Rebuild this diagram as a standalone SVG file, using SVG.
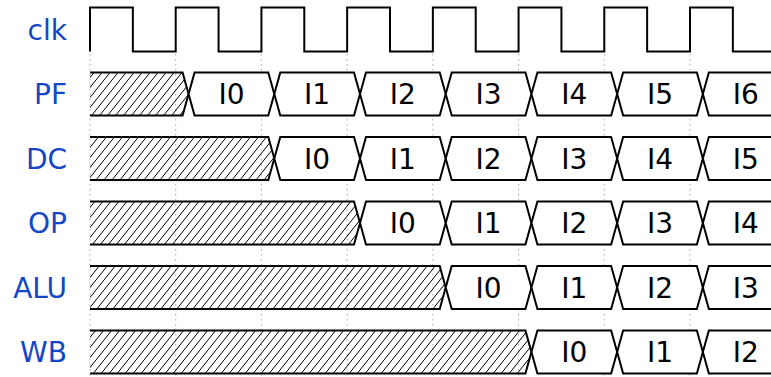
<svg xmlns="http://www.w3.org/2000/svg" width="771" height="377" viewBox="0 0 771 377">
<style>
.lbl{font-family:"DejaVu Sans",sans-serif;font-size:28px;fill:#1446c8;text-anchor:end}
.dt{font-family:"DejaVu Sans",sans-serif;font-size:28px;fill:#000;text-anchor:middle}
.bus{fill:#fff;stroke:#000;stroke-width:2;stroke-linejoin:miter}
.hat{fill:url(#hatch);stroke:#000;stroke-width:2}
.grid{stroke:#aaa;stroke-width:1;stroke-dasharray:1.5,3.5;fill:none}
.clk{fill:none;stroke:#000;stroke-width:2}
</style>
<defs>
<pattern id="hatch" patternUnits="userSpaceOnUse" width="8" height="10">
<path d="M-8.8,11 L0.8,-1 M-0.8,11 L8.8,-1 M7.2,11 L16.8,-1" stroke="#000" stroke-width="1" fill="none"/>
</pattern>
</defs>
<g id="grid">
<path class="grid" d="M90,54V377M175.71,54V377M261.43,54V377M347.14,54V377M432.86,54V377M518.57,54V377M604.29,54V377M690,54V377"/>
</g>
<g id="clk">
<text class="lbl" x="67" y="40">clk</text>
<path class="clk" d="M90,51.5V7.5H132.86V51.5H175.71V7.5H218.57V51.5H261.43V7.5H304.29V51.5H347.14V7.5H390V51.5H432.86V7.5H475.71V51.5H518.57V7.5H561.43V51.5H604.29V7.5H647.14V51.5H690V7.5H732.86V51.5H775"/>
</g>
<g id="PF">
<text class="lbl" x="67" y="104">PF</text>
<path class="hat" d="M90,72.5H182.57L188.57,94L182.57,115.5H90"/>
<polygon class="bus" points="188.57,94 194.57,72.5 268.29,72.5 274.29,94 268.29,115.5 194.57,115.5"/>
<polygon class="bus" points="274.29,94 280.29,72.5 354,72.5 360,94 354,115.5 280.29,115.5"/>
<polygon class="bus" points="360,94 366,72.5 439.71,72.5 445.71,94 439.71,115.5 366,115.5"/>
<polygon class="bus" points="445.71,94 451.71,72.5 525.43,72.5 531.43,94 525.43,115.5 451.71,115.5"/>
<polygon class="bus" points="531.43,94 537.43,72.5 611.14,72.5 617.14,94 611.14,115.5 537.43,115.5"/>
<polygon class="bus" points="617.14,94 623.14,72.5 696.86,72.5 702.86,94 696.86,115.5 623.14,115.5"/>
<polygon class="bus" points="702.86,94 708.86,72.5 782.57,72.5 788.57,94 782.57,115.5 708.86,115.5"/>
<text class="dt" x="231.43" y="104">I0</text>
<text class="dt" x="317.14" y="104">I1</text>
<text class="dt" x="402.86" y="104">I2</text>
<text class="dt" x="488.57" y="104">I3</text>
<text class="dt" x="574.29" y="104">I4</text>
<text class="dt" x="660" y="104">I5</text>
<text class="dt" x="745.71" y="104">I6</text>
</g>
<g id="DC">
<text class="lbl" x="67" y="168.5">DC</text>
<path class="hat" d="M90,137H268.29L274.29,158.5L268.29,180H90"/>
<polygon class="bus" points="274.29,158.5 280.29,137 354,137 360,158.5 354,180 280.29,180"/>
<polygon class="bus" points="360,158.5 366,137 439.71,137 445.71,158.5 439.71,180 366,180"/>
<polygon class="bus" points="445.71,158.5 451.71,137 525.43,137 531.43,158.5 525.43,180 451.71,180"/>
<polygon class="bus" points="531.43,158.5 537.43,137 611.14,137 617.14,158.5 611.14,180 537.43,180"/>
<polygon class="bus" points="617.14,158.5 623.14,137 696.86,137 702.86,158.5 696.86,180 623.14,180"/>
<polygon class="bus" points="702.86,158.5 708.86,137 782.57,137 788.57,158.5 782.57,180 708.86,180"/>
<text class="dt" x="317.14" y="168.5">I0</text>
<text class="dt" x="402.86" y="168.5">I1</text>
<text class="dt" x="488.57" y="168.5">I2</text>
<text class="dt" x="574.29" y="168.5">I3</text>
<text class="dt" x="660" y="168.5">I4</text>
<text class="dt" x="745.71" y="168.5">I5</text>
</g>
<g id="OP">
<text class="lbl" x="67" y="233">OP</text>
<path class="hat" d="M90,201.5H354L360,223L354,244.5H90"/>
<polygon class="bus" points="360,223 366,201.5 439.71,201.5 445.71,223 439.71,244.5 366,244.5"/>
<polygon class="bus" points="445.71,223 451.71,201.5 525.43,201.5 531.43,223 525.43,244.5 451.71,244.5"/>
<polygon class="bus" points="531.43,223 537.43,201.5 611.14,201.5 617.14,223 611.14,244.5 537.43,244.5"/>
<polygon class="bus" points="617.14,223 623.14,201.5 696.86,201.5 702.86,223 696.86,244.5 623.14,244.5"/>
<polygon class="bus" points="702.86,223 708.86,201.5 782.57,201.5 788.57,223 782.57,244.5 708.86,244.5"/>
<text class="dt" x="402.86" y="233">I0</text>
<text class="dt" x="488.57" y="233">I1</text>
<text class="dt" x="574.29" y="233">I2</text>
<text class="dt" x="660" y="233">I3</text>
<text class="dt" x="745.71" y="233">I4</text>
</g>
<g id="ALU">
<text class="lbl" x="67" y="297.5">ALU</text>
<path class="hat" d="M90,266H439.71L445.71,287.5L439.71,309H90"/>
<polygon class="bus" points="445.71,287.5 451.71,266 525.43,266 531.43,287.5 525.43,309 451.71,309"/>
<polygon class="bus" points="531.43,287.5 537.43,266 611.14,266 617.14,287.5 611.14,309 537.43,309"/>
<polygon class="bus" points="617.14,287.5 623.14,266 696.86,266 702.86,287.5 696.86,309 623.14,309"/>
<polygon class="bus" points="702.86,287.5 708.86,266 782.57,266 788.57,287.5 782.57,309 708.86,309"/>
<text class="dt" x="488.57" y="297.5">I0</text>
<text class="dt" x="574.29" y="297.5">I1</text>
<text class="dt" x="660" y="297.5">I2</text>
<text class="dt" x="745.71" y="297.5">I3</text>
</g>
<g id="WB">
<text class="lbl" x="67" y="362">WB</text>
<path class="hat" d="M90,330.5H525.43L531.43,352L525.43,373.5H90"/>
<polygon class="bus" points="531.43,352 537.43,330.5 611.14,330.5 617.14,352 611.14,373.5 537.43,373.5"/>
<polygon class="bus" points="617.14,352 623.14,330.5 696.86,330.5 702.86,352 696.86,373.5 623.14,373.5"/>
<polygon class="bus" points="702.86,352 708.86,330.5 782.57,330.5 788.57,352 782.57,373.5 708.86,373.5"/>
<text class="dt" x="574.29" y="362">I0</text>
<text class="dt" x="660" y="362">I1</text>
<text class="dt" x="745.71" y="362">I2</text>
</g>
</svg>
